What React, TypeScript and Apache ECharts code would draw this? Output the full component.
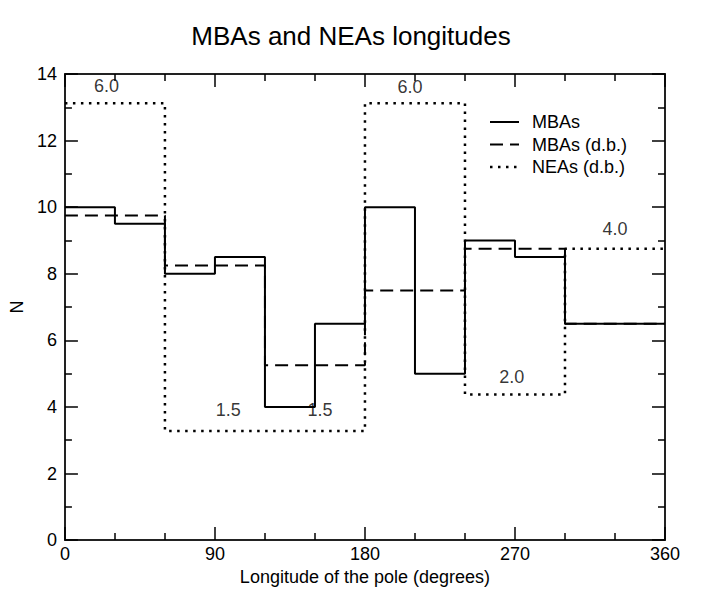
import React, { useEffect, useRef } from "react";
import * as echarts from "echarts";

const binEdges = [0, 30, 60, 90, 120, 150, 180, 210, 240, 270, 300, 330, 360];
const mbas = [10, 9.5, 8, 8.5, 4, 6.5, 10, 5, 9, 8.5, 6.5, 6.5];
const mbasDb = [9.75, 9.75, 8.25, 8.25, 5.25, 5.25, 7.5, 7.5, 8.75, 8.75, 6.5, 6.5];
const neasDb = [13.125, 13.125, 3.28, 3.28, 3.28, 3.28, 13.125, 13.125, 4.375, 4.375, 8.75, 8.75];
const noteText = ["6.0", "1.5", "1.5", "6.0", "2.0", "4.0"];
const noteX = [25, 98, 153, 207, 268, 330];
const noteY = [13.65, 3.9, 3.9, 13.6, 4.9, 9.35];
const xTicks = [0, 90, 180, 270, 360];
const yTicks = [0, 2, 4, 6, 8, 10, 12, 14];
const legendNames = ["MBAs", "MBAs (d.b.)", "NEAs (d.b.)"];

const FONT = "Liberation Sans";
const DASH = [13, 7];
const DOT = [2.5, 5.5];

function stepData(vals: number[]) {
  const d: number[][] = vals.map((v, i) => [binEdges[i], v]);
  d.push([binEdges[binEdges.length - 1], vals[vals.length - 1]]);
  return d;
}

export default function App() {
  const ref = useRef<HTMLDivElement>(null);
  useEffect(() => {
    if (!ref.current) return;
    const chart = echarts.init(ref.current, null, { renderer: "svg" });
    const axisCommon = {
      axisLine: { show: true, onZero: false, lineStyle: { color: "#222", width: 2 } },
      axisTick: { show: true, inside: true, length: 13, lineStyle: { color: "#000", width: 1.5 } },
      minorTick: { show: true, length: 7, lineStyle: { color: "#000", width: 1.5 } },
      splitLine: { show: false },
      minorSplitLine: { show: false },
    };
    const legendStyles = [
      { lineWidth: 2 },
      { lineWidth: 2, lineDash: DASH },
      { lineWidth: 2.5, lineDash: DOT },
    ];
    const legendGraphics: any[] = [];
    legendNames.forEach((n, i) => {
      const y = 122 + i * 22.5;
      legendGraphics.push({
        type: "line",
        shape: { x1: 490, y1: y, x2: 519, y2: y },
        style: { stroke: "#000", ...legendStyles[i] },
      });
      legendGraphics.push({
        type: "text",
        x: 532,
        y,
        style: {
          text: n,
          font: `18px "${FONT}"`,
          fill: "#000",
          verticalAlign: "middle",
          align: "left",
        },
      });
    });
    chart.setOption({
      animation: false,
      backgroundColor: "#fff",
      textStyle: { fontFamily: FONT },
      title: {
        text: "MBAs and NEAs longitudes",
        left: "center",
        top: 18,
        textStyle: { fontFamily: FONT, fontSize: 26, fontWeight: "normal", color: "#000" },
      },
      grid: { left: 61, right: 37, top: 74, bottom: 48 },
      graphic: legendGraphics,
      xAxis: [
        {
          type: "value",
          min: 0,
          max: 360,
          interval: 90,
          ...axisCommon,
          minorTick: { ...axisCommon.minorTick, splitNumber: 3 },
          axisLabel: {
            fontFamily: FONT,
            fontSize: 18,
            color: "#000",
            margin: 5,
            formatter: (v: number) => (xTicks.includes(v) ? String(v) : ""),
          },
          name: "Longitude of the pole (degrees)",
          nameLocation: "middle",
          nameGap: 24,
          nameTextStyle: { fontFamily: FONT, fontSize: 18, color: "#000" },
        },
        {
          type: "value",
          position: "top",
          min: 0,
          max: 360,
          interval: 90,
          ...axisCommon,
          minorTick: { ...axisCommon.minorTick, splitNumber: 3 },
          axisLabel: { show: false },
        },
      ],
      yAxis: [
        {
          type: "value",
          min: 0,
          max: 14,
          interval: 2,
          ...axisCommon,
          minorTick: { ...axisCommon.minorTick, splitNumber: 2 },
          axisLabel: {
            fontFamily: FONT,
            fontSize: 18,
            color: "#000",
            margin: 8,
            formatter: (v: number) => (yTicks.includes(v) ? String(v) : ""),
          },
          name: "N",
          nameLocation: "middle",
          nameGap: 29,
          nameRotate: 90,
          nameTextStyle: { fontFamily: FONT, fontSize: 18, color: "#000" },
        },
        {
          type: "value",
          position: "right",
          min: 0,
          max: 14,
          interval: 2,
          ...axisCommon,
          minorTick: { ...axisCommon.minorTick, splitNumber: 2 },
          axisLabel: { show: false },
        },
      ],
      series: [
        {
          name: "NEAs (d.b.)",
          type: "line",
          step: "end",
          symbol: "none",
          data: stepData(neasDb),
          color: "#000",
          lineStyle: { color: "#000", width: 2.5, type: DOT },
          z: 2,
        },
        {
          name: "MBAs (d.b.)",
          type: "line",
          step: "end",
          symbol: "none",
          data: stepData(mbasDb),
          color: "#000",
          lineStyle: { color: "#000", width: 2, type: DASH },
          z: 3,
        },
        {
          name: "MBAs",
          type: "line",
          step: "end",
          symbol: "none",
          data: stepData(mbas),
          color: "#000",
          lineStyle: { color: "#000", width: 2 },
          z: 4,
        },
        {
          name: "notes",
          type: "scatter",
          symbolSize: 0,
          data: noteX.map((x, i) => ({ value: [x, noteY[i]], name: noteText[i] })),
          label: {
            show: true,
            position: "inside",
            formatter: (p: any) => p.name,
            fontFamily: FONT,
            fontSize: 18,
            color: "#000",
          },
          z: 5,
        },
      ],
    });
    return () => chart.dispose();
  }, []);
  return (
    <div
      ref={ref}
      style={{ position: "fixed", left: 0, top: 0, width: 702, height: 591 }}
    />
  );
}
